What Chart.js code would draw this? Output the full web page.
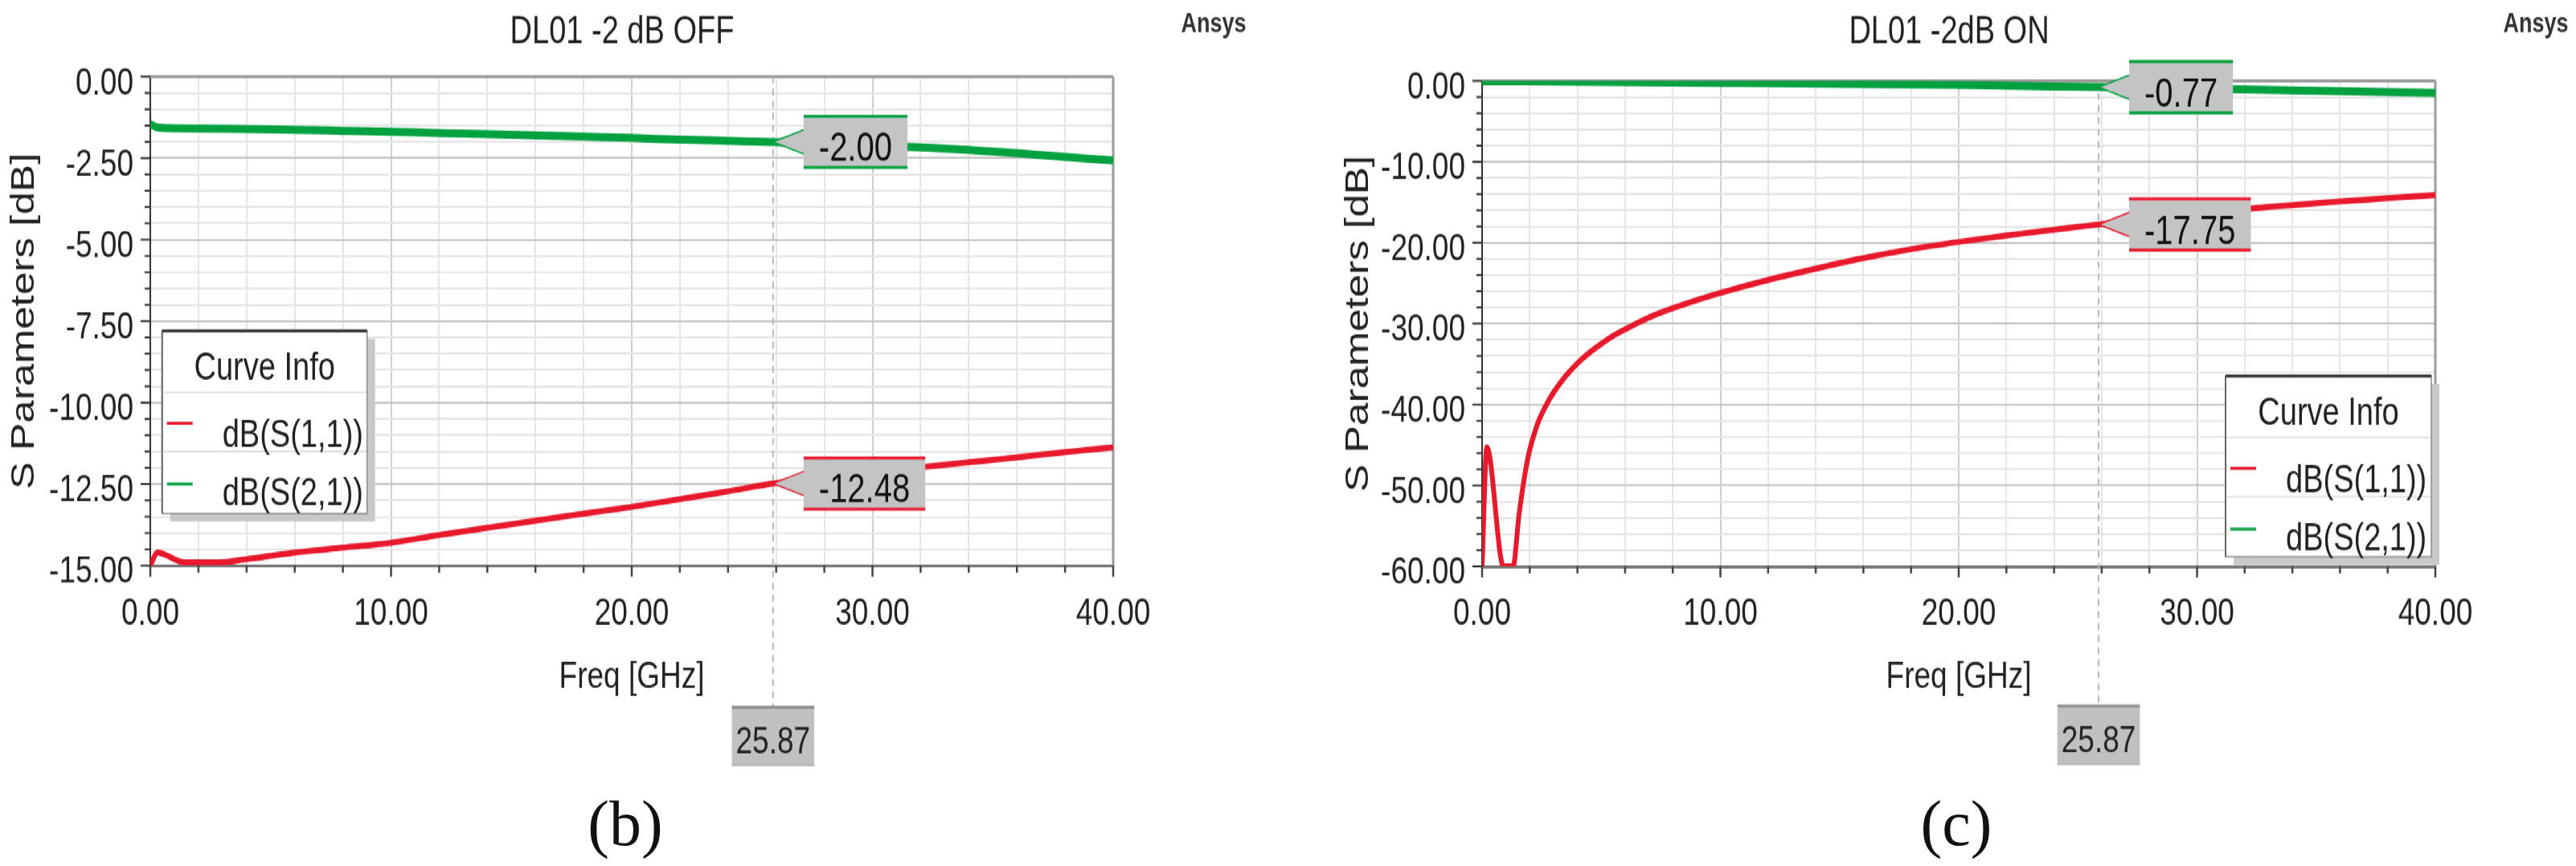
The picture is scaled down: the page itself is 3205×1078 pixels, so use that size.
<!DOCTYPE html>
<html>
<head>
<meta charset="utf-8">
<script src="https://cdn.jsdelivr.net/npm/chart.js@4.4.1/dist/chart.umd.min.js"></script>
<style>
  html, body { margin: 0; padding: 0; background: #fff; }
  body { width: 3205px; height: 1078px; position: relative; overflow: hidden; }
  /* the source picture is stretched vertically, so is this one */
  #stretch { position: absolute; left: 0; top: 0; width: 3205px; height: 862px;
             transform: scaleY(1.25); transform-origin: 0 0; }
  #stretch canvas { position: absolute; top: 0; }
  #cvOff { left: 0; }
  #cvOn { left: 1660px; }
  .cap { position: absolute; top: 1025px; transform: translate(-50%, -50%);
         font-family: "Liberation Serif", "Times New Roman", serif; font-size: 80px;
         line-height: 1; color: #111; }
</style>
</head>
<body>
<div id="stretch">
  <canvas id="cvOff" width="1600" height="862"></canvas>
  <canvas id="cvOn" width="1545" height="862"></canvas>
</div>
<div class="cap" style="left:778px">(b)</div>
<div class="cap" style="left:2434px">(c)</div>
<script>
// ---- data ----
var seriesNames = ["dB(S(1,1))", "dB(S(2,1))"];
var markerFreq = 25.87;

// (b) DL01 -2 dB OFF
var offS11Freq = [0, 0.3, 1.4, 2.9, 4, 6, 8, 10, 12, 14, 16, 18, 20, 22, 24, 26, 28, 30, 32, 34, 36, 38, 40];
var offS11Db = [-15.0, -14.6, -14.9, -14.9, -14.8, -14.6, -14.45, -14.3, -14.06, -13.84, -13.62, -13.41, -13.2,
                -12.96, -12.72, -12.47, -12.3, -12.14, -11.98, -11.83, -11.68, -11.52, -11.37];
var offS21Freq = [0, 0.3, 2, 4, 6, 8, 10, 12, 14, 16, 18, 20, 22, 24, 26, 28, 30, 32, 34, 36, 38, 40];
var offS21Db = [-1.45, -1.56, -1.59, -1.61, -1.63, -1.66, -1.69, -1.73, -1.76, -1.8, -1.84, -1.88, -1.93,
                -1.97, -2.01, -2.06, -2.11, -2.17, -2.25, -2.35, -2.46, -2.57];
var offMarkers = ["-12.48", "-2.00"];

// (c) DL01 -2dB ON
var onS11Freq = [0, 0.2, 0.9, 1.3, 1.55, 1.9, 2.3, 2.7, 3.0, 3.5, 4.0, 4.5, 5.0, 5.5, 6.4, 7.2, 8, 9, 10,
                 12, 14, 16, 18, 20, 22, 24, 26, 28, 30, 32, 34, 36, 38, 40];
var onS11Db = [-60, -45.3, -60, -60, -53.6, -46.9, -42.6, -40.0, -38.5, -36.5, -34.9, -33.6, -32.5, -31.5,
               -30.1, -29.0, -28.1, -27.1, -26.2, -24.6, -23.2, -21.9, -20.8, -19.9, -19.1, -18.4, -17.7,
               -17.1, -16.5, -15.85, -15.35, -14.9, -14.5, -14.1];
var onS21Freq = [0, 5, 10, 15, 20, 25, 30, 35, 40];
var onS21Db = [-0.05, -0.13, -0.24, -0.36, -0.5, -0.72, -0.96, -1.22, -1.5];
var onMarkers = ["-17.75", "-0.77"];

var red = "#e8192c";
var green = "#00a13e";
var FONT = "'Liberation Sans', Arial, sans-serif";

function pts(fx, fy) {
  return fx.map(function (f, i) { return { x: f, y: fy[i] }; });
}

function isMajor(v, step) {
  var q = v / step;
  return Math.abs(q - Math.round(q)) < 1e-6;
}

function line(ctx, x1, y1, x2, y2) {
  ctx.beginPath();
  ctx.moveTo(x1, y1);
  ctx.lineTo(x2, y2);
  ctx.stroke();
}

function drawMarkerBox(ctx, px, py, text, color) {
  ctx.font = "40px " + FONT;
  var tw = ctx.measureText(text).width;
  var bx = px + 38, bw = tw + 38, bh = 51, by = py - bh / 2;
  ctx.fillStyle = "#c4c4c4";
  ctx.beginPath();
  ctx.moveTo(px, py);
  ctx.lineTo(bx + 1, py - 12);
  ctx.lineTo(bx + 1, py + 12);
  ctx.closePath();
  ctx.fill();
  ctx.fillRect(bx, by, bw, bh);
  ctx.strokeStyle = color;
  ctx.lineWidth = 1.5;
  ctx.beginPath();
  ctx.moveTo(bx, py - 12);
  ctx.lineTo(px, py);
  ctx.lineTo(bx, py + 12);
  ctx.stroke();
  ctx.lineWidth = 3;
  line(ctx, bx, by, bx + bw, by);
  line(ctx, bx, by + bh, bx + bw, by + bh);
  ctx.fillStyle = "#111";
  ctx.textAlign = "center";
  ctx.textBaseline = "middle";
  ctx.fillText(text, bx + bw / 2, py + 8);
}

function drawLegend(ctx, chart, L) {
  ctx.fillStyle = "#c9c9c9";
  ctx.fillRect(L.x + 10, L.y + 8, L.w, L.h);
  ctx.fillStyle = "#fff";
  ctx.fillRect(L.x, L.y, L.w, L.h);
  ctx.strokeStyle = "#8a8a8a";
  ctx.lineWidth = 1.5;
  ctx.strokeRect(L.x, L.y, L.w, L.h);
  ctx.strokeStyle = "#666";
  ctx.lineWidth = 2;
  line(ctx, L.x, L.y, L.x, L.y + L.h);
  ctx.strokeStyle = "#3a3a3a";
  ctx.lineWidth = 3;
  line(ctx, L.x, L.y, L.x + L.w, L.y);

  ctx.font = "38px " + FONT;
  ctx.fillStyle = "#222";
  ctx.textAlign = "center";
  ctx.textBaseline = "middle";
  ctx.fillText("Curve Info", L.x + L.w / 2, L.y + 38.6);

  ctx.strokeStyle = "#dadada";
  ctx.lineWidth = 1.5;
  line(ctx, L.x + 1, L.y + 61, L.x + L.w - 1, L.y + 61);
  line(ctx, L.x + 1, L.y + 120, L.x + L.w - 1, L.y + 120);

  chart.data.datasets.forEach(function (ds, i) {
    ctx.strokeStyle = ds.borderColor;
    ctx.lineWidth = 3;
    var sy = L.y + 92 + i * 60.5;
    line(ctx, L.x + 6, sy, L.x + 38, sy);
    ctx.fillStyle = "#222";
    ctx.textAlign = "left";
    ctx.fillText(ds.label, L.x + 75, L.y + 105 + i * 58);
  });
}

var ansysDecor = {
  id: "ansysDecor",
  beforeDatasetsDraw: function (chart, args, o) {
    var ctx = chart.ctx, ca = chart.chartArea;
    var mx = chart.scales.x.getPixelForValue(markerFreq);
    ctx.save();
    ctx.strokeStyle = "#9c9c9c";
    ctx.lineWidth = 3;
    line(ctx, ca.left, ca.top, ca.right, ca.top);
    line(ctx, ca.right, ca.top, ca.right, ca.bottom);
    ctx.strokeStyle = "#b8b8b8";
    ctx.lineWidth = 2;
    ctx.setLineDash([7, 5]);
    line(ctx, mx, ca.top, mx, ca.bottom + o.xBoxTop);
    ctx.restore();
  },
  afterDraw: function (chart, args, o) {
    var ctx = chart.ctx, ca = chart.chartArea;
    var xs = chart.scales.x, ys = chart.scales.y;
    ctx.save();

    // major / minor tick marks
    ctx.strokeStyle = "#444";
    ctx.lineWidth = 2.5;
    xs.ticks.forEach(function (t) {
      var p = xs.getPixelForValue(t.value);
      line(ctx, p, ca.bottom, p, ca.bottom + (isMajor(t.value, 10) ? 11 : 7));
    });
    ctx.strokeStyle = "#333";
    ctx.lineWidth = 2;
    ys.ticks.forEach(function (t) {
      var p = ys.getPixelForValue(t.value);
      line(ctx, ca.left - (isMajor(t.value, o.yMajor) ? 12 : 7), p, ca.left, p);
    });

    // curve markers at 25.87 GHz
    var mx = xs.getPixelForValue(markerFreq);
    o.markers.forEach(function (m, i) {
      drawMarkerBox(ctx, mx, ys.getPixelForValue(parseFloat(m)), m,
                    chart.data.datasets[i].borderColor);
    });

    // frequency marker label under the axis
    ctx.font = "37px " + FONT;
    var fText = markerFreq.toFixed(2);
    var fw = ctx.measureText(fText).width + 10;
    var fy = ca.bottom + o.xBoxTop;
    ctx.fillStyle = "#c0c0c0";
    ctx.fillRect(mx - fw / 2, fy, fw, 58);
    ctx.strokeStyle = "#8f8f8f";
    ctx.lineWidth = 3;
    line(ctx, mx - fw / 2, fy, mx + fw / 2, fy);
    ctx.strokeStyle = "#b0b0b0";
    ctx.lineWidth = 1.5;
    line(ctx, mx - fw / 2, fy + 58, mx + fw / 2, fy + 58);
    ctx.fillStyle = "#222";
    ctx.textAlign = "center";
    ctx.textBaseline = "middle";
    ctx.fillText(fText, mx, fy + 36);

    drawLegend(ctx, chart, o.legendBox);

    // plot title and brand
    ctx.font = "38px " + FONT;
    ctx.fillStyle = "#222";
    ctx.textAlign = "center";
    ctx.textBaseline = "middle";
    ctx.fillText(o.title, (ca.left + ca.right) / 2 - 12, 33);
    ctx.font = "bold 27px " + FONT;
    ctx.fillStyle = "#333";
    ctx.fillText("Ansys", ca.right + 125, 24.5);
    ctx.restore();
  }
};

function makeConfig(c) {
  return {
    type: "line",
    data: {
      datasets: [
        { label: seriesNames[0], data: pts(c.s11f, c.s11d), borderColor: red, borderWidth: 6,
          pointRadius: 0, cubicInterpolationMode: "monotone" },
        { label: seriesNames[1], data: pts(c.s21f, c.s21d), borderColor: green, borderWidth: 8,
          pointRadius: 0, cubicInterpolationMode: "monotone" }
      ]
    },
    options: {
      responsive: false,
      animation: false,
      events: [],
      layout: { padding: c.padding },
      plugins: {
        legend: { display: false },
        tooltip: { enabled: false },
        ansysDecor: { title: c.title, markers: c.markers, yMajor: c.yMajor,
                      legendBox: c.legendBox, xBoxTop: c.xBoxTop }
      },
      scales: {
        x: {
          type: "linear", min: 0, max: 40, position: "bottom",
          afterFit: function (s) { s.height = 133.4; },
          ticks: {
            stepSize: 2, autoSkip: false, maxRotation: 0, padding: 26, color: "#222",
            font: { family: FONT, size: 37 },
            callback: function (v) { return isMajor(v, 10) ? v.toFixed(2) : ""; }
          },
          grid: {
            drawTicks: false, lineWidth: 2,
            color: function (g) { return isMajor(g.tick.value, 10) ? "#cfcfcf" : "#e6e6e6"; }
          },
          border: { display: true, color: "#7a7a7a", width: 3 },
          title: { display: true, text: "Freq [GHz]", color: "#222",
                   font: { family: FONT, size: 37 }, padding: { top: 0, bottom: 0 } }
        },
        y: {
          type: "linear", min: c.yMin, max: 0, position: "left",
          afterFit: function (s) { s.width = c.yWidth; },
          ticks: {
            stepSize: c.yStep, autoSkip: false, padding: 21, labelOffset: 7, color: "#222",
            font: { family: FONT, size: 37 },
            callback: function (v) { return isMajor(v, c.yMajor) ? v.toFixed(2) : ""; }
          },
          grid: {
            drawTicks: false, lineWidth: 2,
            color: function (g) { return isMajor(g.tick.value, c.yMajor) ? "#c6c6c6" : "#e6e6e6"; }
          },
          border: { display: true, color: "#333", width: 2 },
          title: { display: true, text: "S Parameters [dB]", color: "#222",
                   font: { family: FONT, size: 41 }, padding: { top: 6, bottom: 0 } }
        }
      }
    },
    plugins: [ansysDecor]
  };
}

new Chart(document.getElementById("cvOff"), makeConfig({
  s11f: offS11Freq, s11d: offS11Db, s21f: offS21Freq, s21d: offS21Db,
  yMin: -15, yStep: 0.5, yMajor: 2.5, yWidth: 187,
  padding: { left: 0, top: 76.3, right: 215, bottom: 165.4 },
  title: "DL01 -2 dB OFF", markers: offMarkers, xBoxTop: 141,
  legendBox: { x: 201.7, y: 329.4, w: 255, h: 182 }
}));

new Chart(document.getElementById("cvOn"), makeConfig({
  s11f: onS11Freq, s11d: onS11Db, s21f: onS21Freq, s21d: onS21Db,
  yMin: -60, yStep: 2, yMajor: 10, yWidth: 184,
  padding: { left: 0, top: 80.5, right: 175, bottom: 164.6 },
  title: "DL01 -2dB ON", markers: onMarkers, xBoxTop: 139,
  legendBox: { x: 1109, y: 374.4, w: 256, h: 180 }
}));
</script>
</body>
</html>
